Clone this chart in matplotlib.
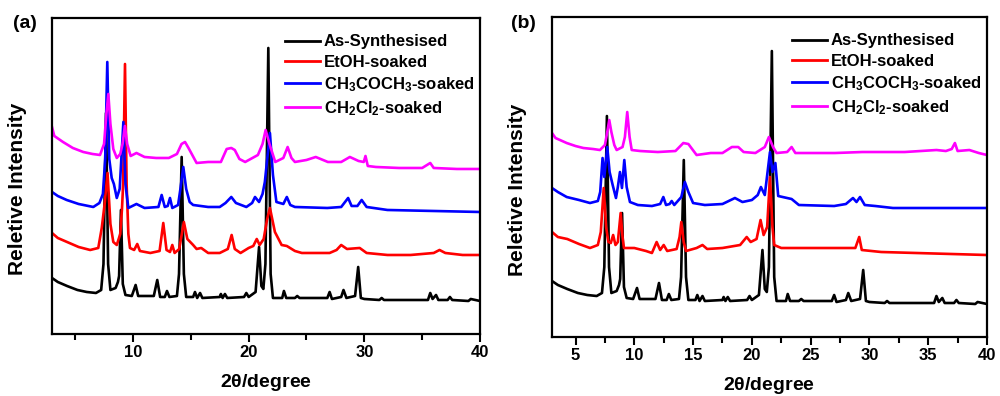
import numpy as np
import matplotlib
matplotlib.use("Agg")
import matplotlib.pyplot as plt
from matplotlib.ticker import MultipleLocator

plt.rcParams["font.family"] = "Liberation Sans"
plt.rcParams["font.weight"] = "bold"

# XRD patterns, (2theta, intensity) points, offset traces in a.u.
as_synth = [
    (3.0, 56), (3.5, 52), (4.3, 48), (5.2, 44), (6.0, 42), (6.8, 41), (7.25, 44),
    (7.45, 70), (7.67, 221), (7.85, 70), (8.05, 44), (8.5, 46), (8.7, 52), (8.8, 58),
    (8.96, 124), (9.12, 50), (9.35, 39), (9.9, 38), (10.23, 49), (10.45, 38),
    (11.8, 38), (12.1, 54), (12.35, 37), (12.75, 37), (12.94, 43), (13.15, 37),
    (13.8, 38), (13.98, 60), (14.21, 177), (14.4, 60), (14.6, 37), (15.2, 37),
    (15.36, 42), (15.55, 36), (15.8, 41), (16.0, 36), (17.5, 37), (17.6, 40),
    (17.75, 36), (17.95, 40), (18.15, 36), (19.6, 37), (19.8, 41), (20.0, 37),
    (20.6, 42), (20.9, 87), (21.1, 48), (21.27, 45), (21.45, 70), (21.7, 286),
    (21.9, 60), (22.1, 36), (22.9, 36), (23.05, 43), (23.25, 36), (24.0, 36),
    (24.2, 38), (24.4, 36), (26.8, 36), (27.0, 42), (27.2, 35), (28.0, 37),
    (28.2, 44), (28.45, 36), (29.2, 38), (29.47, 67), (29.7, 36), (30.0, 35),
    (31.3, 34), (31.5, 36), (31.7, 34), (35.5, 34), (35.7, 41), (35.9, 35),
    (36.2, 39), (36.4, 34), (37.2, 34), (37.4, 37), (37.6, 34), (39.0, 33),
    (39.2, 35), (40.0, 33),
]

etoh_a = [
    (3.0, 101), (3.5, 96), (4.3, 92), (5.3, 87), (6.3, 84), (7.0, 86), (7.3, 106),
    (7.55, 130), (7.8, 161), (8.05, 110), (8.3, 92), (8.6, 89), (8.9, 100),
    (9.05, 125), (9.15, 150), (9.31, 270), (9.45, 150), (9.6, 100), (9.74, 86),
    (10.1, 84), (10.37, 90), (10.6, 83), (11.5, 81), (12.3, 83), (12.62, 111),
    (12.9, 84), (13.2, 82), (13.4, 89), (13.6, 81), (14.0, 85), (14.4, 112),
    (14.7, 95), (15.2, 89), (15.5, 85), (15.9, 86), (16.5, 81), (17.5, 81),
    (18.2, 85), (18.53, 99), (18.8, 85), (19.3, 81), (20.0, 86), (20.4, 88),
    (20.7, 95), (20.95, 89), (21.3, 95), (21.6, 115), (21.84, 126), (22.27, 102),
    (22.85, 89), (23.3, 88), (24.0, 83), (24.6, 81), (27.0, 81), (27.6, 84),
    (28.0, 89), (28.5, 85), (29.6, 86), (30.2, 81), (32.0, 79), (34.0, 79),
    (36.0, 81), (36.5, 84), (37.0, 81), (38.5, 79), (40.0, 79),
]

acetone_a = [
    (3.0, 142), (3.5, 138), (4.27, 134), (5.3, 130), (6.57, 127), (7.1, 131),
    (7.4, 140), (7.6, 175), (7.78, 272), (7.95, 175), (8.16, 156), (8.35, 150),
    (8.6, 136), (8.85, 145), (9.17, 212), (9.35, 150), (9.6, 126), (10.3, 130),
    (11.0, 126), (12.2, 127), (12.48, 139), (12.75, 127), (13.0, 128), (13.2, 136),
    (13.4, 126), (13.9, 129), (14.1, 145), (14.35, 167), (14.6, 145), (14.9, 132),
    (15.2, 129), (16.5, 127), (17.5, 127), (18.0, 131), (18.5, 137), (18.9, 131),
    (19.8, 127), (20.3, 131), (20.55, 137), (20.9, 132), (21.2, 140), (21.4, 152),
    (21.65, 180), (21.84, 201), (22.1, 159), (22.4, 132), (23.0, 130), (23.3, 137),
    (23.6, 129), (24.0, 127), (26.8, 126), (28.0, 127), (28.6, 136), (28.9, 128),
    (29.4, 128), (29.77, 134), (30.2, 127), (32.0, 124), (36.0, 123), (40.0, 122),
]

dcm_a = [
    (3.0, 207), (3.2, 198), (3.95, 192), (4.8, 186), (5.7, 182), (6.5, 180),
    (7.15, 179), (7.5, 190), (7.7, 220), (7.87, 240), (8.05, 210), (8.3, 185),
    (8.6, 176), (8.9, 180), (9.1, 190), (9.3, 208), (9.5, 190), (9.8, 178),
    (10.3, 181), (11.0, 177), (12.0, 176), (13.1, 176), (13.8, 180), (14.2, 190),
    (14.5, 192), (14.8, 186), (15.5, 171), (16.5, 172), (17.6, 172), (18.1, 185),
    (18.5, 186), (18.8, 184), (19.2, 175), (19.7, 172), (20.8, 179), (21.2, 190),
    (21.47, 204), (21.8, 190), (22.3, 172), (23.0, 176), (23.37, 187), (23.7, 176),
    (24.0, 172), (25.0, 174), (25.8, 177), (26.85, 172), (28.0, 172), (28.75, 177),
    (29.5, 173), (29.95, 172), (30.1, 178), (30.3, 168), (31.0, 167), (33.0, 166),
    (35.0, 166), (35.7, 171), (36.0, 166), (38.0, 165), (40.0, 165),
]

etoh_b = [
    (3.0, 105), (3.5, 100), (4.3, 98), (5.3, 93), (6.23, 89), (6.9, 92),
    (7.15, 105), (7.4, 149), (7.6, 110), (7.8, 95), (8.0, 94), (8.2, 102),
    (8.4, 92), (8.6, 95), (8.84, 124), (9.0, 100), (9.12, 89), (10.0, 89),
    (11.0, 86), (11.5, 84), (11.9, 95), (12.2, 87), (12.5, 92), (12.8, 86),
    (13.6, 88), (13.85, 100), (14.0, 115), (14.2, 95), (14.4, 86), (15.3, 89),
    (15.8, 92), (16.2, 88), (17.5, 89), (19.0, 92), (19.56, 100), (19.9, 95),
    (20.4, 98), (20.74, 117), (21.0, 102), (21.3, 110), (21.54, 160), (21.75, 110),
    (21.9, 92), (22.5, 89), (25.0, 89), (27.0, 89), (28.8, 89), (29.13, 100),
    (29.35, 87), (31.0, 85), (34.0, 84), (37.0, 83), (40.0, 82),
]

acetone_b = [
    (3.0, 149), (3.5, 145), (4.25, 140), (5.3, 137), (6.23, 134), (6.9, 136),
    (7.1, 145), (7.3, 179), (7.45, 160), (7.7, 190), (7.9, 165), (8.16, 152),
    (8.44, 139), (8.6, 150), (8.78, 165), (8.95, 149), (9.15, 177), (9.35, 150),
    (9.63, 135), (10.3, 132), (11.5, 131), (12.2, 133), (12.47, 140), (12.7, 132),
    (13.0, 133), (13.18, 136), (13.4, 132), (14.0, 140), (14.3, 155), (14.6, 145),
    (15.0, 134), (16.0, 132), (17.5, 133), (18.56, 139), (19.2, 135), (20.0, 137),
    (20.5, 142), (20.77, 150), (21.1, 142), (21.54, 185), (21.75, 165), (22.0, 174),
    (22.24, 141), (23.38, 138), (24.0, 132), (27.0, 131), (28.0, 133), (28.6, 139),
    (28.9, 135), (29.2, 140), (29.6, 132), (30.5, 131), (32.0, 129), (36.0, 129),
    (40.0, 129),
]

dcm_b = [
    (3.0, 204), (3.3, 199), (4.25, 194), (5.0, 191), (5.67, 189), (6.5, 188),
    (7.08, 187), (7.5, 192), (7.7, 205), (7.87, 217), (8.05, 205), (8.3, 192),
    (8.5, 187), (9.0, 190), (9.2, 200), (9.4, 225), (9.6, 200), (9.78, 187),
    (10.5, 186), (12.0, 185), (13.5, 186), (14.17, 194), (14.6, 193), (15.3, 182),
    (16.5, 184), (17.5, 184), (18.3, 190), (18.84, 190), (19.3, 185), (20.3, 184),
    (21.1, 190), (21.45, 200), (21.8, 190), (22.1, 184), (23.0, 185), (23.38, 190),
    (23.7, 184), (25.0, 184), (27.06, 184), (29.4, 185), (31.0, 185), (33.0, 185),
    (35.7, 187), (36.5, 186), (37.0, 188), (37.27, 194), (37.5, 186), (38.5, 187),
    (39.3, 184), (40.0, 182),
]

labels = ["As-Synthesised", "EtOH-soaked",
          r"$\mathregular{CH_3COCH_3}$-soaked", r"$\mathregular{CH_2Cl_2}$-soaked"]
colors = ["#000000", "#ff0000", "#0000ff", "#ff00ff"]

fig = plt.figure(figsize=(10, 3.96), dpi=100)
ax_a = fig.add_axes([0.052, 0.1566, 0.428, 0.798])
ax_b = fig.add_axes([0.552, 0.149, 0.435, 0.808])

panels = [
    (ax_a, [as_synth, etoh_a, acetone_a, dcm_a], 316, "(a)", 0.013),
    (ax_b, [as_synth, etoh_b, acetone_b, dcm_b], 320, "(b)", 0.511),
]

for ax, traces, ytop, tag, tag_x in panels:
    for pts, lab, col in zip(traces, labels, colors):
        xy = np.array(pts)
        ax.plot(xy[:, 0], xy[:, 1], color=col, lw=1.9, label=lab)

    ax.set_xlim(3, 40)
    ax.set_ylim(0, ytop)
    ax.set_yticks([])
    for sp in ax.spines.values():
        sp.set_linewidth(1.6)

    ax.tick_params(axis="x", which="both", direction="out", width=1.5,
                   labelsize=12, pad=2)
    ax.tick_params(axis="x", which="major", length=6)
    ax.tick_params(axis="x", which="minor", length=4)

    ax.set_xlabel(r"2$\mathregular{\theta}$/degree", fontsize=14, fontweight="bold")
    ax.set_ylabel("Reletive Intensity", fontsize=15, fontweight="bold")
    ax.xaxis.set_label_coords(0.5, -0.12)
    ax.yaxis.set_label_coords(-0.058, 0.46)

    leg = ax.legend(loc="upper right", frameon=False, fontsize=12,
                    handlelength=2.1, handletextpad=0.25, labelspacing=0.32,
                    borderaxespad=0.3, bbox_to_anchor=(1.015, 0.985))
    for h in leg.get_lines():
        h.set_linewidth(2)

    fig.text(tag_x, 0.94, tag, fontsize=14, fontweight="bold", va="center")

ax_a.xaxis.set_major_locator(MultipleLocator(10))
ax_a.xaxis.set_minor_locator(MultipleLocator(5))
ax_b.xaxis.set_major_locator(MultipleLocator(5))
ax_b.xaxis.set_minor_locator(MultipleLocator(2.5))

fig.savefig("out.png", dpi=100)
